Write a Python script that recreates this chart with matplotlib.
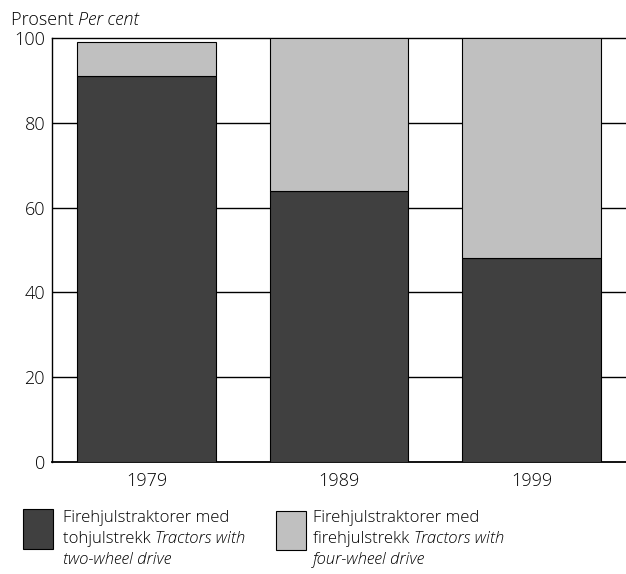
import matplotlib
matplotlib.use('Agg')
import matplotlib.pyplot as plt
from matplotlib.patches import Rectangle

years = ['1979', '1989', '1999']
two_wheel = [91, 64, 48]
four_wheel = [8, 36, 52]
yticks = [0, 20, 40, 60, 80, 100]

dark = '#404040'
light = '#c0c0c0'

plt.rcParams['font.family'] = ['Open Sans', 'DejaVu Sans']
plt.rcParams['font.weight'] = 'light'

W, H = 626, 574
fig = plt.figure(figsize=(W / 100, H / 100), dpi=100)
ax = fig.add_axes([52 / W, 112 / H, 574 / W, 424 / H])

x = list(range(len(years)))
ax.bar(x, two_wheel, width=0.72, color=dark, edgecolor='black', linewidth=0.8, zorder=3)
ax.bar(x, four_wheel, bottom=two_wheel, width=0.72, color=light, edgecolor='black',
       linewidth=0.8, zorder=3)

for v in yticks[1:-1]:
    ax.axhline(v, color='black', linewidth=1, zorder=1)

ax.set_xlim(-0.49, 2.49)
ax.set_ylim(0, 100)
ax.set_xticks(x)
ax.set_xticklabels(years)
ax.set_yticks(yticks)
ax.tick_params(length=0, labelsize=13)
ax.tick_params(axis='y', pad=5)
ax.tick_params(axis='x', pad=7)
for s in ['left', 'top', 'bottom']:
    ax.spines[s].set_color('black')
    ax.spines[s].set_linewidth(1)
ax.spines['bottom'].set_linewidth(1.3)
ax.spines['right'].set_visible(False)

fig.canvas.draw()
renderer = fig.canvas.get_renderer()


def runs(px, py, parts, size=12):
    # place text pieces one after another on a line, py from top in pixels
    cur = px
    for txt, style in parts:
        t = fig.text(cur / W, 1 - py / H, txt, fontsize=size, style=style,
                     va='baseline', ha='left')
        bb = t.get_window_extent(renderer)
        cur = bb.x1


runs(11, 25, [('Prosent ', 'normal'), ('Per cent', 'italic')], size=13)

fig.patches.append(Rectangle((23 / W, 1 - 549 / H), 30 / W, 40 / H, transform=fig.transFigure,
                             facecolor=dark, edgecolor='black', linewidth=0.8))
fig.patches.append(Rectangle((276 / W, 1 - 550 / H), 30 / W, 39 / H, transform=fig.transFigure,
                             facecolor=light, edgecolor='black', linewidth=0.8))

runs(63, 522, [('Firehjulstraktorer med', 'normal')])
runs(63, 543, [('tohjulstrekk ', 'normal'), ('Tractors with', 'italic')])
runs(63, 564, [('two-wheel drive', 'italic')])

runs(313, 522, [('Firehjulstraktorer med', 'normal')])
runs(313, 543, [('firehjulstrekk ', 'normal'), ('Tractors with', 'italic')])
runs(313, 564, [('four-wheel drive', 'italic')])

fig.savefig('out.png', dpi=100)
